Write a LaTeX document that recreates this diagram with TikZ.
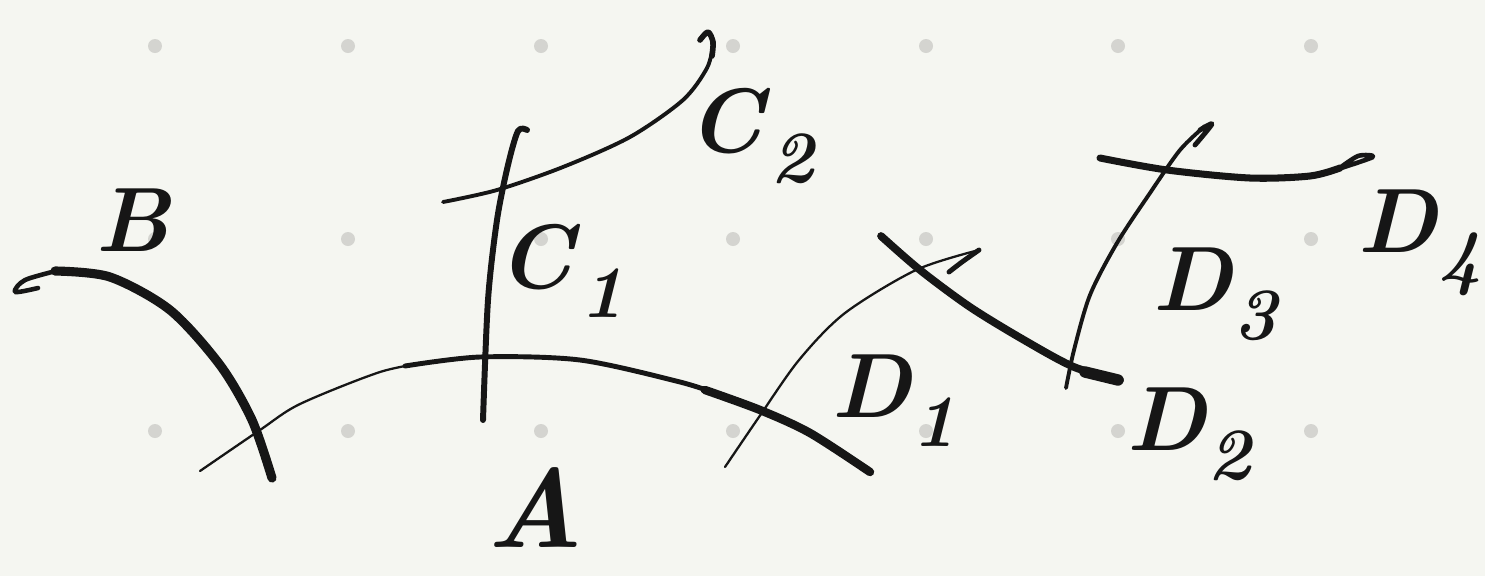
\documentclass[tikz,border=0pt]{standalone}
\definecolor{paper}{RGB}{245,246,241}
\definecolor{dotgrey}{RGB}{212,212,208}
\definecolor{ink}{RGB}{22,22,22}
\newcommand{\sketchname}[2]{\textit{#1}\raisebox{-0.32em}{\fontsize{42}{42}\selectfont\textit{#2}}}
\tikzset{
  curve/.style={draw=ink, line cap=round, line join=round},
  lettering/.style={text=ink, inner sep=0pt, font=\fontsize{52}{52}\selectfont\bfseries},
}
\begin{document}
\begin{tikzpicture}[x=0.02cm, y=-0.02cm]
\fill[paper] (0,0) rectangle (1485,576);
% dot grid
\foreach \x in {155,348,541,733,926,1118,1311}
  \foreach \y in {46,239,431}
    \fill[dotgrey] (\x,\y) circle[radius=0.14cm];
% curve A, thin on the left, heavy on the right
\draw[curve, line width=1.3pt] plot[smooth] coordinates {(200,471) (260,430) (300,404) (380,372) (430,362)};
\draw[curve, line width=2.8pt] plot[smooth] coordinates {(405,366) (480,357) (580,360) (680,382) (720,395)};
\draw[curve, line width=4.8pt] plot[smooth] coordinates {(705,390) (760,410) (810,433) (870,472)};
% curve B with its curl
\draw[curve, line width=2.6pt] plot[smooth] coordinates {(38,288) (15,292) (25,280) (60,270)};
\draw[curve, line width=5.2pt] plot[smooth] coordinates {(55,271) (110,277) (170,310) (220,365) (252,420) (272,478)};
% curves C1 and C2
\draw[curve, line width=3.4pt] plot[smooth] coordinates {(527,130) (518,131) (508,165) (497,220) (488,300) (483,420)};
\draw[curve, line width=2.2pt] plot[smooth] coordinates {(443,202) (497,190) (563,167) (630,137) (683,100) (707,68) (713,45)};
\draw[curve, line width=3.2pt] plot[smooth] coordinates {(712,56) (713,42) (708,32) (700,40)};
% curves D1 to D4
\draw[curve, line width=1.3pt] plot[smooth] coordinates {(725,467) (759,417) (799,360) (845,313) (916,270) (979,250)};
\draw[curve, line width=2.8pt] plot[smooth] coordinates {(979,250) (962,262) (949,272)};
\draw[curve, line width=4.4pt] plot[smooth] coordinates {(881,236) (920,270) (970,307) (1024,340) (1074,367) (1120,380)};
\draw[curve, line width=6.5pt] (1085,372) -- (1118,380);
\draw[curve, line width=2.2pt] plot[smooth] coordinates {(1066,388) (1074,350) (1090,295) (1117,243) (1150,193) (1180,150) (1205,126)};
\draw[curve, line width=2.8pt] plot[smooth] coordinates {(1200,130) (1212,124) (1195,145)};
\draw[curve, line width=4pt] plot[smooth] coordinates {(1100,158) (1167,170) (1250,178) (1310,176) (1340,168)};
\draw[curve, line width=2.6pt] plot[smooth] coordinates {(1335,170) (1373,157) (1358,156) (1337,170)};
% names of the curves
\node[lettering] (nameB) at (133,220) {\textit{B}};
\node[lettering] (nameC1) at (561,271) {\sketchname{C}{1}};
\node[lettering] (nameC2) at (752,136) {\sketchname{C}{2}};
\node[lettering] (nameD1) at (894,401) {\sketchname{D}{1}};
\node[lettering] (nameD2) at (1190,434) {\sketchname{D}{2}};
\node[lettering] (nameD3) at (1216,294) {\sketchname{D}{3}};
\node[lettering] (nameD4) at (1420,243) {\sketchname{D}{4}};
\node[lettering, font=\fontsize{64}{64}\selectfont\bfseries] (nameA) at (535,508) {\textit{A}};
\end{tikzpicture}
\end{document}
